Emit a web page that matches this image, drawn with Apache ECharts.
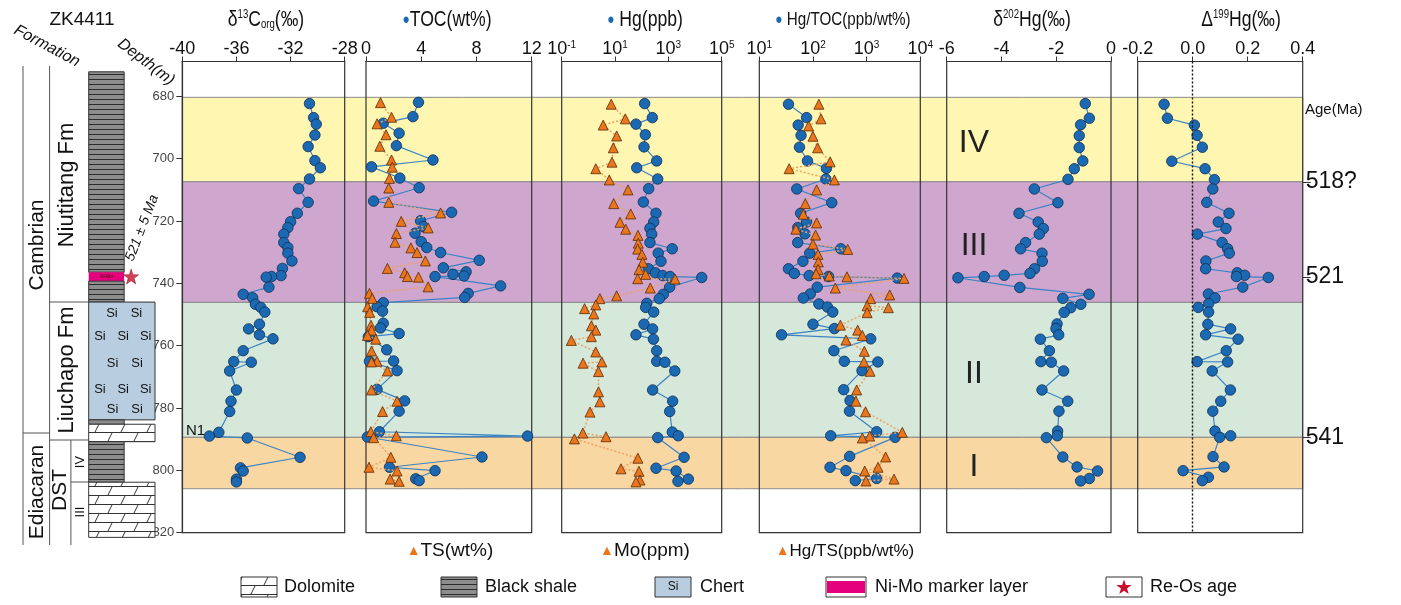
<!DOCTYPE html>
<html>
<head>
<meta charset="utf-8">
<script src="https://cdn.jsdelivr.net/npm/echarts@6/dist/echarts.min.js"></script>
<style>
  html, body { margin: 0; background: #fff; }
  #chart { width: 1401px; height: 605px; }
</style>
</head>
<body>
<div id="chart"></div>
<script>
// ---------- data ----------
const depthTicks = [680, 700, 720, 740, 760, 780, 800, 820];
const zoneNames = ['IV', 'III', 'II', 'I'];
const zoneTop = [680.3, 707.4, 746.1, 789.4];
const zoneBase = [707.4, 746.1, 789.4, 805.9];
const ageDepth = [707.4, 738.0, 789.4];
const ageLabel = ['518?', '521', '541'];
const reOsDepth = 737.8;

// lithology column
const lithTop = [672.1, 736.4, 739.3, 746.0, 783.8, 785.2, 790.8, 803.8];
const lithBase = [736.4, 739.3, 746.0, 783.8, 785.2, 790.8, 803.8, 821.5];
const lithType = ['shale', 'nimo', 'shale', 'chert', 'shale', 'dolomite', 'shale', 'dolomite'];

// δ13Corg (‰)
const c13Depth = [682.3,686.8,688.9,692.4,696.1,700.6,702.9,706.5,709.6,714.0,717.5,720.2,722.1,724.2,726.9,728.5,730.3,732.8,735.2,737.5,737.8,738.0,741.2,743.5,744.6,746.7,747.7,749.2,753.1,754.6,756.5,757.8,761.6,765.1,765.3,768.1,774.2,777.8,781.1,787.8,789.0,789.6,795.8,799.2,800.2,802.8,803.7];
const c13Val = [-30.6,-30.3,-30.1,-30.2,-30.7,-30.2,-29.8,-30.6,-31.4,-30.7,-31.5,-32.0,-32.2,-32.5,-32.5,-32.2,-32.2,-31.9,-32.6,-32.7,-33.4,-33.8,-33.6,-35.5,-34.8,-34.6,-34.2,-33.9,-34.3,-35.1,-34.3,-33.3,-35.5,-36.2,-34.9,-36.5,-36.0,-36.4,-36.5,-37.3,-38.0,-35.2,-31.3,-35.7,-35.5,-36.0,-36.0];

// TOC (wt%)
const tocDepth = [681.9,686.5,688.6,691.8,695.8,700.4,702.6,706.2,709.3,713.6,717.2,719.9,721.8,723.9,726.6,728.5,730.1,732.6,735.0,736.3,737.1,737.6,737.8,740.8,743.2,744.5,746.2,747.5,748.9,752.8,754.3,756.1,757.1,761.3,764.9,765.0,768.0,774.0,777.7,781.0,787.6,789.0,789.3,795.7,799.0,800.1,802.7,803.3];
const tocVal = [3.8,3.4,1.25,2.4,2.2,4.85,0.4,2.45,3.85,0.55,6.2,3.95,4.15,3.55,4.0,4.4,5.4,8.2,5.6,7.25,6.3,7.1,5.0,9.75,7.4,7.15,1.25,0.8,1.2,1.25,1.05,2.4,0.17,1.5,2.0,0.25,2.25,0.8,2.8,2.4,0.97,11.7,0.1,8.4,1.7,5.0,3.6,3.85];

// TS (wt%)
const tsDepth = [682.0,686.7,688.8,692.3,696.0,700.4,702.7,706.3,709.4,714.0,717.4,720.1,722.2,724.0,726.8,728.6,730.1,732.8,735.2,736.6,737.8,738.0,741.1,743.2,744.8,747.5,749.3,753.4,755.0,756.7,757.9,761.7,765.0,765.2,768.1,774.2,777.8,781.1,787.6,788.9,789.5,795.8,799.0,800.2,802.8,803.5];
const tsVal = [1.05,1.85,0.8,1.45,1.0,1.85,1.9,1.7,1.65,1.65,5.4,2.55,4.5,2.2,2.1,3.25,3.7,4.3,1.55,2.8,3.0,3.8,4.5,0.25,0.45,0.12,0.27,0.36,0.4,0.1,0.7,0.4,0.8,0.4,1.55,0.4,2.25,1.2,0.35,2.2,0.55,1.8,0.22,2.25,1.75,2.4];

// Hg (ppb)
const hgDepth = [682.3,686.8,688.9,692.3,696.2,700.7,702.9,706.5,709.6,713.9,717.5,720.3,722.3,724.2,726.9,728.9,730.3,732.9,735.3,736.6,737.5,737.8,738.1,741.2,743.5,744.9,746.4,747.7,749.2,753.1,754.6,756.5,757.9,761.6,765.0,765.3,768.1,774.2,777.8,781.1,787.7,788.9,789.5,795.8,799.3,800.2,802.8,803.5];
const hgVal = [129,251,61,137,122,365,65,398,183,115,344,282,204,237,204,1400,417,528,178,324,615,1150,17800,1120,646,457,155,141,282,122,257,61,275,365,365,741,1740,257,1450,1120,1400,2340,398,3890,344,1950,5620,2290];

// Mo (ppm)
const moDepth = [682.5,687.2,689.2,692.7,696.5,701.1,703.2,706.8,710.0,714.4,717.7,720.4,722.6,724.6,727.1,729.0,730.7,733.2,735.6,737.1,738.5,738.6,741.5,744.0,744.9,746.9,748.1,749.8,753.6,755.0,757.1,758.3,762.0,765.2,765.6,768.3,774.8,778.0,781.3,788.0,789.2,789.9,796.1,799.5,800.3,803.1,803.7];
const moVal = [7.2,24.3,3.6,11.5,8.6,7.7,1.9,6.1,30.6,8.9,38.6,15.3,25.1,72.4,74.6,70.8,102,109,79.4,141,70.8,1780,209,11.5,2.7,1.9,0.72,1.6,1.3,1.9,1.3,0.23,1.9,3.2,0.63,2.4,2.4,2.7,1.15,0.62,4.6,0.30,72,16.7,79,86,61];

// Hg/TOC (ppb/wt%)
const htocDepth = [682.5,686.8,689.2,692.5,696.3,700.7,703.1,706.5,709.7,714.1,717.5,720.3,722.1,724.1,726.9,728.9,730.3,732.9,735.3,736.8,737.5,737.8,738.3,741.2,743.4,744.7,746.6,747.6,749.2,753.1,754.5,756.5,757.8,761.6,765.0,765.2,768.0,774.1,777.6,781.0,787.6,788.9,789.4,795.5,799.0,800.1,802.6,803.3];
const htocVal = [35,76,53,60,56,79,178,174,50,224,59,76,52,71,52,331,87,65,35,45,85,195,3715,120,89,66,129,186,234,100,251,26,1190,245,384,1620,820,373,490,479,1540,214,3390,483,208,412,1540,615];

// Hg/TS (ppb/wt%)
const htsDepth = [682.5,687.2,689.5,692.8,696.5,701.0,703.2,706.8,710.0,714.4,717.8,720.6,722.6,724.5,727.4,729.1,730.7,733.1,735.5,736.9,737.6,737.9,738.4,741.5,743.7,744.9,747.2,747.8,749.4,753.4,755.0,756.7,758.2,761.8,765.2,768.2,774.2,777.8,781.2,787.8,789.0,789.6,795.7,799.0,800.2,802.8,803.4];
const htsVal = [129,141,83,100,122,209,36,251,117,72,66,117,48,112,100,444,124,126,124,114,201,430,4970,261,2690,1190,1020,2540,1020,324,681,832,412,906,891,1156,653,631,955,4620,1140,832,2260,1630,920,3240,973];

// δ202Hg (‰)
const h202Depth = [682.3,687.0,689.1,692.6,696.4,700.7,703.2,706.6,709.7,714.1,717.5,720.3,722.4,724.2,726.9,728.9,730.3,732.9,735.3,736.8,737.4,737.8,738.2,741.3,743.5,744.8,746.7,747.8,749.3,753.0,754.5,756.5,757.9,761.6,765.1,765.3,768.1,774.2,777.8,781.0,787.4,788.9,789.5,795.7,798.9,800.2,802.6,803.4];
const h202Val = [-0.94,-0.79,-1.11,-1.16,-1.16,-1.03,-1.34,-1.57,-2.80,-1.94,-3.36,-2.66,-2.47,-2.62,-3.12,-3.30,-2.52,-2.51,-2.79,-2.96,-3.90,-4.63,-5.59,-3.33,-0.80,-1.76,-1.10,-1.47,-1.71,-1.97,-2.01,-1.91,-2.58,-2.25,-2.56,-2.18,-1.73,-2.52,-1.58,-1.90,-1.95,-1.96,-2.36,-1.76,-1.24,-0.49,-0.79,-1.11];

// Δ199Hg (‰)
const h199Depth = [682.5,687.0,689.2,692.5,696.3,700.8,703.2,706.7,709.7,714.0,717.5,720.3,722.4,724.2,726.9,728.9,730.3,732.8,735.3,736.6,737.4,737.8,738.1,741.2,743.4,744.7,746.5,747.7,749.2,753.1,754.6,756.5,757.9,761.6,765.1,765.2,768.1,774.2,777.8,781.0,787.4,788.9,789.4,795.6,798.9,800.1,802.2,803.3];
const h199Val = [-0.104,-0.092,0.006,0.016,0.035,-0.076,0.045,0.079,0.073,0.051,0.132,0.093,0.121,0.017,0.107,0.127,0.133,0.048,0.047,0.162,0.189,0.159,0.275,0.182,0.057,0.081,0.058,0.020,0.058,0.055,0.138,0.047,0.165,0.122,0.016,0.127,0.071,0.137,0.102,0.073,0.081,0.138,0.098,0.074,0.114,-0.035,0.057,0.035];

// ---------- styles ----------
const SANS = "'Liberation Sans',Arial,sans-serif";
const zoneColors = ['#fff6b2', '#cea6ce', '#d5e8d9', '#f9d7a3'];
const BLUE = '#1b69b2', ORANGE = '#ea761d';
const depthMin = 668.8, depthMax = 820;
const STAR = 'path://M0,-10L2.35,-3.24L9.51,-3.09L3.8,1.24L5.88,8.09L0,4L-5.88,8.09L-3.8,1.24L-9.51,-3.09L-2.35,-3.24Z';
const starPoints = (cx, cy, r) => {
  const pts = [];
  for (let k = 0; k < 10; k++) {
    const rr = k % 2 ? r * 0.4 : r;
    const ang = -Math.PI / 2 + k * Math.PI / 5;
    pts.push([cx + rr * Math.cos(ang), cy + rr * Math.sin(ang)]);
  }
  return pts;
};

// fill patterns for the lithology
function makePattern(type) {
  const c = document.createElement('canvas');
  const ctx = c.getContext('2d');
  if (type === 'shale') {
    c.width = 8; c.height = 5;
    ctx.fillStyle = '#8d8d8d'; ctx.fillRect(0, 0, 8, 5);
    ctx.fillStyle = '#2b2b2b'; ctx.fillRect(0, 4, 8, 1);
  } else if (type === 'dolomite') {
    c.width = 26; c.height = 18;
    ctx.fillStyle = '#fff'; ctx.fillRect(0, 0, 26, 18);
    ctx.strokeStyle = '#333'; ctx.lineWidth = 1;
    ctx.beginPath();
    ctx.moveTo(0, 0.5); ctx.lineTo(26, 0.5);
    ctx.moveTo(0, 9.5); ctx.lineTo(26, 9.5);
    ctx.moveTo(4, 9); ctx.lineTo(8, 1);
    ctx.moveTo(17, 18); ctx.lineTo(21, 10);
    ctx.stroke();
  } else if (type === 'chert') {
    c.width = 2; c.height = 2;
    ctx.fillStyle = '#b8cee0'; ctx.fillRect(0, 0, 2, 2);
  } else {
    c.width = 2; c.height = 2;
    ctx.fillStyle = '#e5007e'; ctx.fillRect(0, 0, 2, 2);
  }
  return { image: c, repeat: 'repeat' };
}
const patterns = {};
['shale', 'dolomite', 'chert', 'nimo'].forEach(t => patterns[t] = makePattern(t));
const lithWidth = { shale: 0.535, nimo: 0.535, chert: 1, dolomite: 1 };

const zip = (xs, ds) => xs.map((v, i) => [v, ds[i]]);

// ---------- grids ----------
const panelLeft = [182.3, 366, 561.7, 759.3, 946.7, 1137.7];
const panelWidth = [162.4, 165.7, 160, 161, 164.3, 165];
const gridTop = 61.5, gridHeight = 471.2;

// 0: background bands, 1-6: panels, 7: lithology column
const grids = [{ left: 182.3, top: gridTop, width: 1120.4, height: gridHeight, show: false }];
panelLeft.forEach((l, i) => grids.push({
  left: l, top: gridTop, width: panelWidth[i], height: gridHeight,
  show: true, borderColor: '#333', borderWidth: 1.2, backgroundColor: 'transparent'
}));
grids.push({ left: 88.7, top: gridTop, width: 66.3, height: gridHeight, show: false });

// y axes (depth)
const yAxes = [];
for (let g = 0; g < 8; g++) {
  yAxes.push({ type: 'value', gridIndex: g, min: depthMin, max: depthMax, inverse: true, show: false });
}
// depth labels on the first panel
yAxes[1] = {
  type: 'value', gridIndex: 1, min: depthMin, max: depthMax, inverse: true, position: 'left',
  axisLine: { show: true, onZero: false, lineStyle: { color: '#333', width: 1.2 } },
  axisTick: { show: true, length: 6, customValues: depthTicks, lineStyle: { color: '#333' } },
  axisLabel: { customValues: depthTicks, fontSize: 13, color: '#444', fontFamily: SANS, margin: 8 },
  splitLine: { show: false }
};
// age labels on the right
yAxes[0] = {
  type: 'value', gridIndex: 0, min: depthMin, max: depthMax, inverse: true, position: 'right',
  axisLine: { show: false, onZero: false },
  axisTick: { show: true, length: 8, customValues: ageDepth, lineStyle: { color: '#333' } },
  axisLabel: {
    customValues: ageDepth, fontSize: 23, color: '#111', fontFamily: SANS, margin: 3,
    formatter: v => {
      let k = 0;
      ageDepth.forEach((d, i) => { if (Math.abs(d - v) < Math.abs(ageDepth[k] - v)) k = i; });
      return ageLabel[k];
    }
  },
  splitLine: { show: false }
};

const labRich = {
  b: { fontSize: 18, fontFamily: SANS, color: '#111' },
  s: { fontSize: 10, fontFamily: SANS, color: '#111', verticalAlign: 'top' }
};
const logFmt = v => '{b|10}{s|' + Math.round(Math.log10(v)) + '}';

function topAxis(gridIndex, opts) {
  return Object.assign({
    gridIndex, position: 'top',
    axisLine: { show: true, onZero: false, lineStyle: { color: '#333', width: 1.2 } },
    axisTick: { show: true, length: 5, lineStyle: { color: '#333' } },
    axisLabel: { fontSize: 18, color: '#111', fontFamily: SANS, margin: 3 },
    splitLine: { show: false }
  }, opts);
}

const xAxes = [
  { type: 'value', gridIndex: 0, min: 0, max: 1, show: false },
  topAxis(1, { type: 'value', min: -40, max: -28, interval: 4 }),
  topAxis(2, { type: 'value', min: 0, max: 12, interval: 4 }),
  topAxis(3, { type: 'log', logBase: 10, min: 0.1, max: 100000,
    axisTick: { show: true, length: 5, customValues: [0.1, 10, 1000, 100000], lineStyle: { color: '#333' } },
    axisLabel: { customValues: [0.1, 10, 1000, 100000], formatter: logFmt, rich: labRich, margin: 3 } }),
  topAxis(4, { type: 'log', logBase: 10, min: 10, max: 10000,
    axisTick: { show: true, length: 5, customValues: [10, 100, 1000, 10000], lineStyle: { color: '#333' } },
    axisLabel: { customValues: [10, 100, 1000, 10000], formatter: logFmt, rich: labRich, margin: 3 } }),
  topAxis(5, { type: 'value', min: -6, max: 0, interval: 2 }),
  topAxis(6, { type: 'value', min: -0.2, max: 0.4, interval: 0.2,
    axisLabel: { fontSize: 18, color: '#111', fontFamily: SANS, margin: 3, formatter: v => v.toFixed(1) } }),
  { type: 'value', gridIndex: 7, min: 0, max: 1, show: false }
];

// ---------- series ----------
function circles(idx, data) {
  return {
    type: 'line', xAxisIndex: idx, yAxisIndex: idx, data, symbol: 'circle', symbolSize: 10.5,
    lineStyle: { color: '#3c83c6', width: 1.2 },
    itemStyle: { color: BLUE, borderColor: '#0f2f52', borderWidth: 0.8 },
    z: 3, animation: false
  };
}
function triangles(idx, data) {
  return {
    type: 'line', xAxisIndex: idx, yAxisIndex: idx, data, symbol: 'triangle', symbolSize: 10,
    lineStyle: { color: '#f0a060', width: 1.5, type: [2, 2] },
    itemStyle: { color: ORANGE, borderColor: '#5a2a05', borderWidth: 0.8 },
    z: 4, animation: false
  };
}

const series = [
  // coloured intervals across all panels
  {
    type: 'custom', xAxisIndex: 0, yAxisIndex: 0, z: -1, silent: true, animation: false,
    data: zoneTop.map((t, i) => [t, zoneBase[i]]),
    renderItem(params, api) {
      const a = api.coord([0, api.value(0)]);
      const b = api.coord([1, api.value(1)]);
      const mid = api.coord([0.7066, (api.value(0) + api.value(1)) / 2]);
      return {
        type: 'group', children: [
          { type: 'rect', shape: { x: a[0], y: a[1], width: b[0] - a[0], height: b[1] - a[1] },
            style: { fill: zoneColors[params.dataIndex], stroke: '#8a8a8a', lineWidth: 1 } },
          { type: 'text', x: mid[0], y: mid[1] + 4,
            style: { text: zoneNames[params.dataIndex], fontSize: 32, fontFamily: SANS, fill: '#222',
              align: 'center', verticalAlign: 'middle' } }
        ]
      };
    }
  },
  // lithology column
  {
    type: 'custom', xAxisIndex: 7, yAxisIndex: 7, silent: true, clip: false, animation: false,
    data: lithTop.map((t, i) => [t, lithBase[i]]),
    renderItem(params, api) {
      const t = lithType[params.dataIndex];
      const a = api.coord([0, api.value(0)]);
      const b = api.coord([lithWidth[t], api.value(1)]);
      const w = b[0] - a[0], h = b[1] - a[1];
      const children = [{ type: 'rect', shape: { x: a[0], y: a[1], width: w, height: h },
        style: { fill: patterns[t], stroke: t === 'nimo' ? null : '#333', lineWidth: 1 } }];
      if (t === 'chert') {
        const rows = [[0.35, 0.72], [0.17, 0.52, 0.86], [0.36, 0.73], [0.17, 0.52, 0.86], [0.36, 0.73]];
        const ry = [0.1, 0.29, 0.52, 0.74, 0.91];
        rows.forEach((r, j) => r.forEach(fx => children.push({
          type: 'text', x: a[0] + fx * w, y: a[1] + ry[j] * h,
          style: { text: 'Si', fontSize: 13, fontFamily: SANS, fill: '#111', align: 'center', verticalAlign: 'middle' }
        })));
      }
      if (t === 'nimo') {
        children.push({ type: 'text', x: a[0] + w / 2, y: a[1] + h / 2,
          style: { text: 'Ni-Mo', fontSize: 5, fill: '#400', align: 'center', verticalAlign: 'middle' } });
      }
      return { type: 'group', children };
    }
  },
  // Re-Os star
  {
    type: 'scatter', xAxisIndex: 7, yAxisIndex: 7, data: [[0.64, reOsDepth]], symbolSize: 15,
    symbol: STAR, itemStyle: { color: '#c8102e', borderColor: '#600', borderWidth: 0.5 }, animation: false
  },
  circles(1, zip(c13Val, c13Depth)),
  circles(2, zip(tocVal, tocDepth)),
  triangles(2, zip(tsVal, tsDepth)),
  circles(3, zip(hgVal, hgDepth)),
  triangles(3, zip(moVal, moDepth)),
  circles(4, zip(htocVal, htocDepth)),
  triangles(4, zip(htsVal, htsDepth)),
  circles(5, zip(h202Val, h202Depth)),
  Object.assign(circles(6, zip(h199Val, h199Depth)), {
    markLine: {
      silent: true, symbol: 'none', label: { show: false },
      lineStyle: { color: '#111', type: [2, 2], width: 1.4 },
      data: [{ xAxis: 0 }]
    }
  })
];

// ---------- annotations ----------
const txt = (x, y, text, size, extra) => ({
  type: 'text', x, y, silent: true,
  style: Object.assign({ text, fontSize: size, fontFamily: SANS, fill: '#111', align: 'center', verticalAlign: 'middle' }, extra || {})
});
const vline = (x, y1, y2) => ({ type: 'line', silent: true, shape: { x1: x, y1, x2: x, y2 }, style: { stroke: '#555', lineWidth: 1 } });
const hline = (y, x1, x2) => ({ type: 'line', silent: true, shape: { x1, y1: y, x2, y2: y }, style: { stroke: '#555', lineWidth: 1 } });
const rad = d => d * Math.PI / 180;
const triRich = t => ({ tri: { fontSize: 14, fill: ORANGE }, t: { fontSize: t, fontFamily: SANS } });
const titleRich = {
  t: { fontSize: 22, fontFamily: SANS, fill: '#111' },
  ts: { fontSize: 19, fontFamily: SANS, fill: '#111' },
  sup: { fontSize: 12, fontFamily: SANS, fill: '#111', verticalAlign: 'top' },
  sub: { fontSize: 12, fontFamily: SANS, fill: '#111', verticalAlign: 'bottom' },
  dot: { fontSize: 15, fill: BLUE }
};
// panel titles (slightly condensed like the original)
const title = (x, text) => Object.assign(txt(x, 20, '', 22, { text, rich: titleRich }), { scaleX: 0.8 });

const graphics = [
  title(266, '{t|δ}{sup|13}{t|C}{sub|org}{t|(‰)}'),
  title(447, '{dot|●}{t|TOC(wt%)}'),
  title(645, '{dot|●}{t| Hg(ppb)}'),
  title(843, '{dot|●}{ts| Hg/TOC(ppb/wt%)}'),
  title(1032, '{t|δ}{sup|202}{t|Hg(‰)}'),
  title(1241, '{t|Δ}{sup|199}{t|Hg(‰)}'),
  txt(82, 20, 'ZK4411', 19),
  Object.assign(txt(47, 46, 'Formation', 16, { fontStyle: 'italic' }), { rotation: rad(-28) }),
  Object.assign(txt(146, 62, 'Depth(m)', 16, { fontStyle: 'italic' }), { rotation: rad(-37) }),
  // formation column
  vline(23, 66, 545), vline(49.6, 66, 545),
  hline(302, 49.6, 88.7), hline(433, 23, 49.6), hline(440, 49.6, 88.7),
  vline(70.9, 440, 545), hline(482, 70.9, 88.7),
  Object.assign(txt(37, 245, 'Cambrian', 21), { rotation: rad(90) }),
  Object.assign(txt(37, 492, 'Ediacaran', 21), { rotation: rad(90) }),
  Object.assign(txt(67, 185, 'Niutitang Fm', 22), { rotation: rad(90) }),
  Object.assign(txt(67, 370, 'Liuchapo Fm', 22), { rotation: rad(90) }),
  Object.assign(txt(60, 490, 'DST', 21), { rotation: rad(90) }),
  Object.assign(txt(80, 462, 'IV', 13), { rotation: rad(90) }),
  Object.assign(txt(80, 512, 'III', 13), { rotation: rad(90) }),
  Object.assign(txt(142, 228, '521 ± 5 Ma', 14, { fontStyle: 'italic' }), { rotation: rad(69) }),
  txt(186, 431, 'N1', 15, { align: 'left' }),
  txt(1305, 110, 'Age(Ma)', 15, { align: 'left' }),
  // bottom series labels
  txt(450, 551, '', 19, { text: '{tri|▲}{t|TS(wt%)}', rich: triRich(19) }),
  txt(645, 551, '', 19, { text: '{tri|▲}{t|Mo(ppm)}', rich: triRich(19) }),
  txt(845, 551, '', 19, { text: '{tri|▲}{t|Hg/TS(ppb/wt%)}', rich: triRich(17) }),
  // legend
  { type: 'rect', shape: { x: 241, y: 577, width: 36, height: 20 }, style: { fill: patterns.dolomite, stroke: '#333' } },
  txt(284, 587, 'Dolomite', 18, { align: 'left' }),
  { type: 'rect', shape: { x: 441, y: 577, width: 36, height: 20 }, style: { fill: patterns.shale, stroke: '#333' } },
  txt(485, 587, 'Black shale', 18, { align: 'left' }),
  { type: 'rect', shape: { x: 655, y: 577, width: 36, height: 20 }, style: { fill: patterns.chert, stroke: '#333' } },
  txt(673, 587, 'Si', 12),
  txt(700, 587, 'Chert', 18, { align: 'left' }),
  { type: 'rect', shape: { x: 826, y: 577, width: 40, height: 20 }, style: { fill: '#fff', stroke: '#333' } },
  { type: 'rect', shape: { x: 827, y: 581, width: 38, height: 12 }, style: { fill: '#e5007e' } },
  txt(875, 587, 'Ni-Mo marker layer', 18, { align: 'left' }),
  { type: 'rect', shape: { x: 1106, y: 577, width: 36, height: 20 }, style: { fill: '#fff', stroke: '#333' } },
  { type: 'polygon', shape: { points: starPoints(1124, 587.5, 8) }, style: { fill: '#c8102e' } },
  txt(1150, 587, 'Re-Os age', 18, { align: 'left' })
];

const chartDom = document.getElementById('chart');
const myChart = echarts.init(chartDom);
const option = {
  animation: false,
  grid: grids,
  xAxis: xAxes,
  yAxis: yAxes,
  series,
  graphic: graphics
};
myChart.setOption(option);
</script>
</body>
</html>
